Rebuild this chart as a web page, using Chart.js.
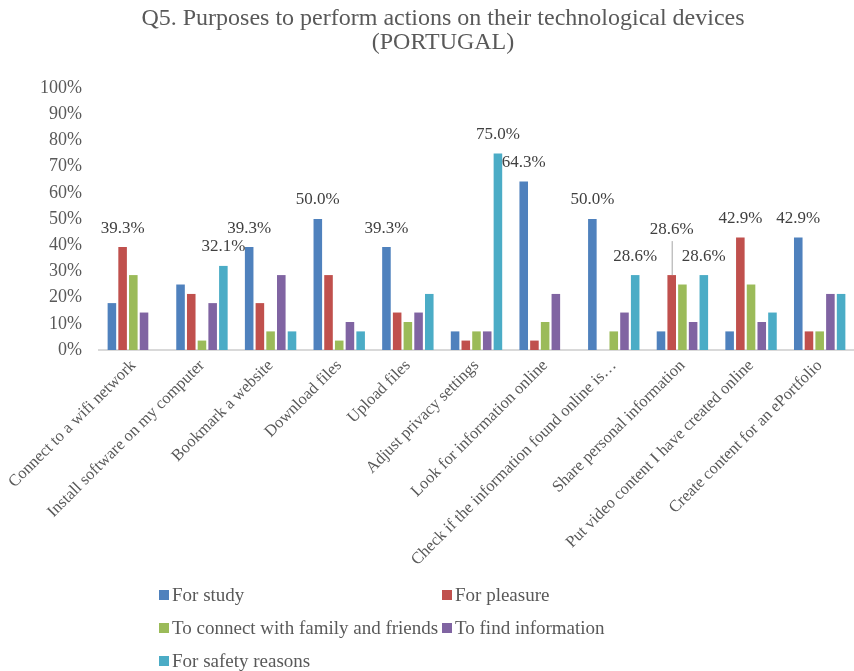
<!DOCTYPE html>
<html>
<head>
<meta charset="utf-8">
<script src="https://cdn.jsdelivr.net/npm/chart.js@4/dist/chart.umd.min.js"></script>
<style>
  html, body { margin: 0; padding: 0; background: #fff; }
  #wrap { position: relative; width: 854px; height: 671px; }
  #legend {
    position: absolute; left: 159px; top: 578px;
    display: grid; grid-template-columns: 283px auto; grid-auto-rows: 33px;
    font-family: 'Liberation Serif', 'Times New Roman', serif; font-size: 19px; color: #595959;
  }
  #legend .item { display: flex; align-items: center; white-space: nowrap; }
  #legend .box { width: 10px; height: 10px; margin-right: 3px; }
</style>
</head>
<body>
<div id="wrap">
  <canvas id="chart"></canvas>
  <div id="legend"></div>
</div>
<script>
const categories = [
  'Connect to a wifi network',
  'Install software on my computer',
  'Bookmark a website',
  'Download files',
  'Upload files',
  'Adjust privacy settings',
  'Look for information online',
  'Check if the information found online is…',
  'Share personal information',
  'Put video content I have created online',
  'Create content for an ePortfolio'
];
const seriesNames = ['For study', 'For pleasure', 'To connect with family and friends', 'To find information', 'For safety reasons'];

// percentages per category
const forStudy    = [17.9, 25.0, 39.3, 50.0, 39.3, 7.1, 64.3, 50.0, 7.1, 7.1, 42.9];
const forPleasure = [39.3, 21.4, 17.9, 28.6, 14.3, 3.6, 3.6, 0, 28.6, 42.9, 7.1];
const toConnect   = [28.6, 3.6, 7.1, 3.6, 10.7, 7.1, 10.7, 7.1, 25.0, 25.0, 7.1];
const toFindInfo  = [14.3, 17.9, 28.6, 10.7, 14.3, 7.1, 21.4, 14.3, 10.7, 10.7, 21.4];
const forSafety   = [0, 32.1, 7.1, 7.1, 21.4, 75.0, 0, 28.6, 28.6, 14.3, 21.4];

const yTicks = [0, 10, 20, 30, 40, 50, 60, 70, 80, 90, 100];

// bars that carry a value label: [category, series]
const labelled = [[0, 1], [1, 4], [2, 0], [3, 0], [4, 0], [5, 4], [6, 0], [7, 0], [7, 4], [8, 1], [8, 4], [9, 1], [10, 0]];

const colors = ['#4F81BD', '#C0504D', '#9BBB59', '#8064A2', '#4BACC6'];
const serif = "'Liberation Serif', 'Times New Roman', serif";

const valueLabels = {
  id: 'valueLabels',
  afterDatasetsDraw(chart) {
    const ctx = chart.ctx;
    ctx.save();
    ctx.font = '17px ' + serif;
    ctx.fillStyle = '#404040';
    ctx.textAlign = 'center';
    ctx.textBaseline = 'middle';
    labelled.forEach(([c, s]) => {
      const bar = chart.getDatasetMeta(s).data[c];
      const v = chart.data.datasets[s].data[c];
      // the red label over "Share personal information" sits higher, with a leader line
      const lifted = (c === 8 && s === 1);
      const y = bar.y - (lifted ? 46 : 19);
      if (lifted) {
        ctx.strokeStyle = '#A6A6A6';
        ctx.lineWidth = 1;
        ctx.beginPath();
        ctx.moveTo(bar.x + 0.5, y + 12);
        ctx.lineTo(bar.x + 0.5, bar.y);
        ctx.stroke();
      }
      ctx.fillText(v.toFixed(1) + '%', bar.x, y);
    });
    ctx.restore();
  }
};

const values = [forStudy, forPleasure, toConnect, toFindInfo, forSafety];

const chart = new Chart(document.getElementById('chart'), {
  type: 'bar',
  data: {
    labels: categories,
    datasets: values.map((d, i) => ({
      label: seriesNames[i],
      data: d,
      backgroundColor: colors[i],
      categoryPercentage: 0.78,
      barPercentage: 0.8
    }))
  },
  options: {
    responsive: true,
    maintainAspectRatio: false,
    animation: false,
    layout: { padding: { left: 32, right: 0, top: 0, bottom: 91 } },
    plugins: {
      legend: { display: false },
      tooltip: { enabled: false },
      title: {
        display: true,
        text: ['Q5. Purposes to perform actions on their technological devices', '(PORTUGAL)'],
        color: '#595959',
        font: { family: serif, size: 24, weight: 'normal', lineHeight: 0.98 },
        padding: { top: 7, bottom: 34 }
      }
    },
    scales: {
      x: {
        grid: { display: false, drawTicks: false },
        border: { display: true, color: '#D9D9D9', width: 2 },
        ticks: {
          color: '#595959',
          font: { family: serif, size: 16.5 },
          minRotation: 45,
          maxRotation: 45,
          autoSkip: false,
          padding: 6
        },
        afterFit(scale) { scale.height = 230; }
      },
      y: {
        min: 0,
        max: 100,
        afterBuildTicks(scale) { scale.ticks = yTicks.map(v => ({ value: v })); },
        grid: { display: false, drawTicks: false },
        border: { display: false },
        ticks: {
          color: '#595959',
          font: { family: serif, size: 18 },
          padding: 17,
          callback: v => v + '%'
        },
        afterFit(scale) { scale.width = 67; }
      }
    }
  },
  plugins: [valueLabels]
});

// two-column legend under the plot
const legend = document.getElementById('legend');
chart.data.datasets.forEach(ds => {
  const item = document.createElement('div');
  item.className = 'item';
  const box = document.createElement('span');
  box.className = 'box';
  box.style.background = ds.backgroundColor;
  item.appendChild(box);
  item.appendChild(document.createTextNode(ds.label));
  legend.appendChild(item);
});
</script>
</body>
</html>
